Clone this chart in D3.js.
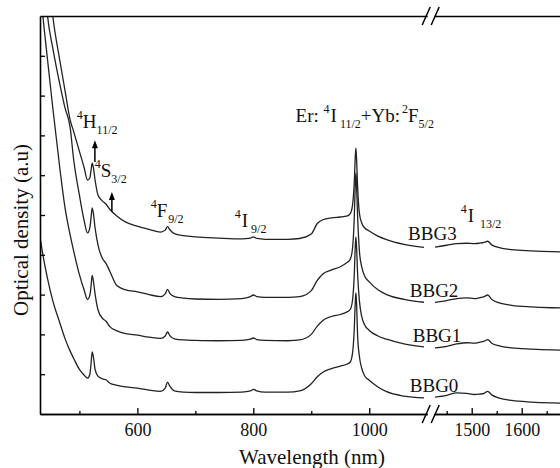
<!DOCTYPE html>
<html>
<head>
<meta charset="utf-8">
<script src="https://cdn.jsdelivr.net/npm/d3@7"></script>
<style>
  body { margin: 0; background: #fff; }
  svg { display: block; font-family: "Liberation Serif", "Tinos", "Times New Roman", "DejaVu Serif", serif; }
  svg text { font-family: "Liberation Serif", "Tinos", "Times New Roman", "DejaVu Serif", serif; }
</style>
</head>
<body>
<div id="chart"></div>
<script>
// spectra, split in two parts by the broken x axis
const seriesNames = ["BBG0", "BBG1", "BBG2", "BBG3"];

const waveLeft = [432, 437, 445, 454, 466, 475, 484, 490, 500, 508, 514, 518, 520, 522, 524, 527, 532, 540, 546, 552,
  565, 580, 600, 620, 640, 648, 652, 656, 664, 680, 700, 740, 780, 795, 800, 806, 820, 860, 880, 900,
  910, 920, 935, 950, 961, 967, 971, 974, 976, 977, 978, 980, 983, 987, 992, 1000, 1015, 1030, 1060, 1100];

const bbg0Left = [4.45, 4.0, 3.4, 2.85, 2.3, 1.9, 1.58, 1.4, 1.12, 0.98, 0.9, 1.0, 1.25, 1.56, 1.45, 1.12, 0.95, 0.88, 0.86, 0.78,
  0.72, 0.68, 0.65, 0.6, 0.57, 0.65, 0.8, 0.7, 0.58, 0.55, 0.54, 0.54, 0.55, 0.58, 0.62, 0.58, 0.55, 0.55, 0.58, 0.76,
  0.93, 1.05, 1.14, 1.2, 1.25, 1.3, 1.51, 2.08, 2.83, 3.04, 2.83, 1.95, 1.45, 1.15, 0.96, 0.85, 0.68, 0.56, 0.45, 0.4];
const bbg1Left = [10.8, 10.0, 8.9, 7.7, 6.2, 5.2, 4.5, 4.1, 3.5, 3.12, 2.88, 2.98, 3.2, 3.48, 3.35, 3.02, 2.62, 2.4, 2.33, 2.2,
  2.09, 2.02, 1.98, 1.93, 1.9, 1.96, 2.06, 1.97, 1.89, 1.86, 1.85, 1.84, 1.85, 1.88, 1.91, 1.87, 1.85, 1.84, 1.86, 2.0,
  2.2, 2.35, 2.45, 2.5, 2.56, 2.62, 2.84, 3.44, 4.23, 4.45, 4.23, 3.5, 2.85, 2.45, 2.24, 2.1, 1.96, 1.88, 1.76, 1.68];
const bbg2Left = [12.5, 11.5, 10.0, 9.2, 8.3, 7.7, 7.2, 6.4, 5.5, 4.87, 4.55, 4.68, 4.92, 5.18, 5.05, 4.68, 4.25, 3.9, 3.78, 3.6,
  3.22, 3.12, 3.07, 3.0, 2.95, 3.02, 3.13, 3.03, 2.95, 2.91, 2.89, 2.88, 2.9, 2.95, 2.99, 2.95, 2.93, 2.93, 2.95, 3.1,
  3.35, 3.52, 3.62, 3.7, 3.8, 3.88, 4.14, 4.86, 5.8, 6.06, 5.8, 4.95, 4.1, 3.7, 3.47, 3.32, 3.12, 3.0, 2.88, 2.8];
const bbg3Left = [14.0, 12.8, 11.3, 10.0, 8.9, 8.14, 7.39, 7.1, 6.6, 6.2, 5.88, 5.93, 6.12, 6.3, 6.2, 5.88, 5.5, 5.35, 5.27, 5.15,
  4.97, 4.82, 4.72, 4.64, 4.57, 4.62, 4.71, 4.63, 4.53, 4.48, 4.45, 4.42, 4.4, 4.42, 4.45, 4.41, 4.39, 4.39, 4.41, 4.52,
  4.78, 4.88, 4.93, 4.95, 4.97, 5.03, 5.23, 5.77, 6.48, 6.68, 6.45, 5.7, 5.05, 4.8, 4.68, 4.6, 4.47, 4.38, 4.26, 4.18];

const waveRight = [1425, 1450, 1470, 1490, 1505, 1515, 1525, 1532, 1540, 1555, 1580, 1620, 1660, 1700];
const bbg0Right = [0.42, 0.47, 0.53, 0.52, 0.49, 0.5, 0.52, 0.57, 0.48, 0.4, 0.34, 0.3, 0.28, 0.27];
const bbg1Right = [1.66, 1.7, 1.76, 1.79, 1.78, 1.8, 1.83, 1.87, 1.78, 1.71, 1.66, 1.63, 1.61, 1.6];
const bbg2Right = [2.8, 2.85, 2.9, 2.92, 2.9, 2.92, 2.95, 2.99, 2.88, 2.79, 2.73, 2.69, 2.67, 2.66];
const bbg3Right = [4.19, 4.24, 4.28, 4.29, 4.28, 4.29, 4.31, 4.34, 4.25, 4.18, 4.13, 4.1, 4.08, 4.07];

const xTicksLeft = [600, 800, 1000];
const xMinorLeft = [500, 700, 900];
const xTicksRight = [1500, 1600];
const xMinorRight = [1450, 1550, 1650];
const yTicks = [1, 2, 3, 4, 5, 6, 7, 8, 9];

const width = 560, height = 468;

const svg = d3.select("#chart").append("svg")
  .attr("width", width).attr("height", height);

// scales: two x pieces, one y
const xL = d3.scaleLinear().domain([432, 1100]).range([40, 427.2]);
const xR = d3.scaleLinear().domain([1425, 1700]).range([434.2, 571.7]);
const y = d3.scaleLinear().domain([0, 10]).range([414, 16]);

const breakX = (xL.range()[1] + xR.range()[0]) / 2;

// clip areas
const defs = svg.append("defs");
defs.append("clipPath").attr("id", "clipL").append("rect")
  .attr("x", 40).attr("y", y(10)).attr("width", 384).attr("height", y(0) - y(10));
defs.append("clipPath").attr("id", "clipR").append("rect")
  .attr("x", 435).attr("y", y(10)).attr("width", width - 435).attr("height", y(0) - y(10));

// curves
const leftSeries = [bbg0Left, bbg1Left, bbg2Left, bbg3Left];
const rightSeries = [bbg0Right, bbg1Right, bbg2Right, bbg3Right];

const lineL = d3.line().x(d => xL(d[0])).y(d => y(d[1])).curve(d3.curveMonotoneX);
const lineR = d3.line().x(d => xR(d[0])).y(d => y(d[1])).curve(d3.curveMonotoneX);

svg.append("g").attr("clip-path", "url(#clipL)")
  .selectAll("path")
  .data(leftSeries)
  .join("path")
  .attr("fill", "none")
  .attr("stroke", "#222")
  .attr("stroke-width", 1.3)
  .attr("d", vals => lineL(vals.map((v, i) => [waveLeft[i], v])));

svg.append("g").attr("clip-path", "url(#clipR)")
  .selectAll("path")
  .data(rightSeries)
  .join("path")
  .attr("fill", "none")
  .attr("stroke", "#222")
  .attr("stroke-width", 1.3)
  .attr("d", vals => lineR(vals.map((v, i) => [waveRight[i], v])));

// axes
function styleAxis(g) {
  g.attr("font-family", null).attr("font-size", 18);
  g.select(".domain").attr("stroke", "#000").attr("stroke-width", 1.6);
  g.selectAll(".tick line").attr("stroke", "#000").attr("stroke-width", 1.3);
  g.selectAll(".tick text").attr("fill", "#111");
}

const fmt = d3.format("d");

svg.append("g")
  .attr("transform", `translate(0,${y(0)})`)
  .call(d3.axisBottom(xL).tickValues(xTicksLeft).tickFormat(fmt).tickSizeInner(-6).tickSizeOuter(0).tickPadding(9))
  .call(styleAxis);
svg.append("g")
  .attr("transform", `translate(0,${y(0)})`)
  .call(d3.axisBottom(xL).tickValues(xMinorLeft).tickSizeInner(-3).tickSizeOuter(0).tickFormat(""))
  .call(styleAxis);
svg.append("g")
  .attr("transform", `translate(0,${y(0)})`)
  .call(d3.axisBottom(xR).tickValues(xTicksRight).tickFormat(fmt).tickSizeInner(-6).tickSizeOuter(0).tickPadding(9))
  .call(styleAxis);
svg.append("g")
  .attr("transform", `translate(0,${y(0)})`)
  .call(d3.axisBottom(xR).tickValues(xMinorRight).tickSizeInner(-3).tickSizeOuter(0).tickFormat(""))
  .call(styleAxis);

// top frame, broken too
svg.append("g")
  .attr("transform", `translate(0,${y(10)})`)
  .call(d3.axisTop(xL).tickValues([]).tickSizeOuter(0))
  .call(styleAxis);
svg.append("g")
  .attr("transform", `translate(0,${y(10)})`)
  .call(d3.axisTop(xR).tickValues([]).tickSizeOuter(0))
  .call(styleAxis);

svg.append("g")
  .attr("transform", `translate(${xL(432)},0)`)
  .call(d3.axisLeft(y).tickValues(yTicks).tickSizeInner(-5).tickSizeOuter(0).tickFormat(""))
  .call(styleAxis);

// break marks "//"
[y(0), y(10)].forEach(cy => {
  [-4.5, 4.5].forEach(off => {
    const cx = breakX + off;
    svg.append("line")
      .attr("x1", cx - 4).attr("y1", cy + 9)
      .attr("x2", cx + 4).attr("y2", cy - 9)
      .attr("stroke", "#000").attr("stroke-width", 1.5);
  });
});

// axis titles
svg.append("text")
  .attr("x", 312).attr("y", 464)
  .attr("text-anchor", "middle")
  .attr("font-size", 21)
  .attr("fill", "#111")
  .text("Wavelength (nm)");

svg.append("text")
  .attr("transform", "translate(28,230) rotate(-90)")
  .attr("text-anchor", "middle")
  .attr("font-size", 21)
  .attr("fill", "#111")
  .text("Optical density (a.u)");

// transition labels with super/subscripts
function levelLabel(pos, parts) {
  const t = svg.append("text")
    .attr("x", pos[0]).attr("y", pos[1])
    .attr("font-size", 19)
    .attr("fill", "#111");
  let shift = 0;
  parts.forEach(([s, kind, dx]) => {
    const target = kind === "sup" ? -9 : kind === "sub" ? 6 : 0;
    t.append("tspan")
      .attr("dy", target - shift)
      .attr("dx", dx || 0)
      .attr("font-size", kind ? 12 : 19)
      .text(s);
    shift = target;
  });
}

const levels = [
  { at: [xL(495.6), y(7.19)], parts: [["4", "sup"], ["H"], ["11/2", "sub"]] },
  { at: [xL(526.5), y(5.95)], parts: [["4", "sup"], ["S"], ["3/2", "sub"]] },
  { at: [xL(623), y(4.95)], parts: [["4", "sup"], ["F"], ["9/2", "sub", 1]] },
  { at: [xL(768), y(4.70)], parts: [["4", "sup"], ["I", null, 1], ["9/2", "sub", 3]] },
  { at: [xL(873), y(7.33)], parts: [["Er: "], ["4", "sup"], ["I", null, 1], ["11/2", "sub", 3], ["+Yb:"], ["2", "sup", 2], ["F"], ["5/2", "sub"]] },
  { at: [xR(1478), y(4.82)], parts: [["4", "sup"], ["I", null, 1], ["13/2", "sub", 6]] }
];
levels.forEach(l => levelLabel(l.at, l.parts));

// arrows under the green-band labels
const arrows = [
  { x: 526.7, from: 6.33, to: 6.88 },
  { x: 556, from: 5.08, to: 5.58 }
];
arrows.forEach(a => {
  const ax = xL(a.x), y0 = y(a.from), y1 = y(a.to);
  svg.append("line")
    .attr("x1", ax).attr("y1", y0).attr("x2", ax).attr("y2", y1 + 6)
    .attr("stroke", "#000").attr("stroke-width", 1.5);
  svg.append("path")
    .attr("d", `M${ax},${y1} L${ax - 3},${y1 + 8} L${ax + 3},${y1 + 8} Z`)
    .attr("fill", "#000");
});

// sample names
const nameSpots = [[1070, 0.55], [1075, 1.81], [1070, 2.94], [1067, 4.37]];
svg.selectAll("text.name")
  .data(seriesNames)
  .join("text")
  .attr("class", "name")
  .attr("x", (d, i) => xL(nameSpots[i][0]))
  .attr("y", (d, i) => y(nameSpots[i][1]))
  .attr("font-size", 19)
  .attr("fill", "#111")
  .text(d => d);
</script>
</body>
</html>
